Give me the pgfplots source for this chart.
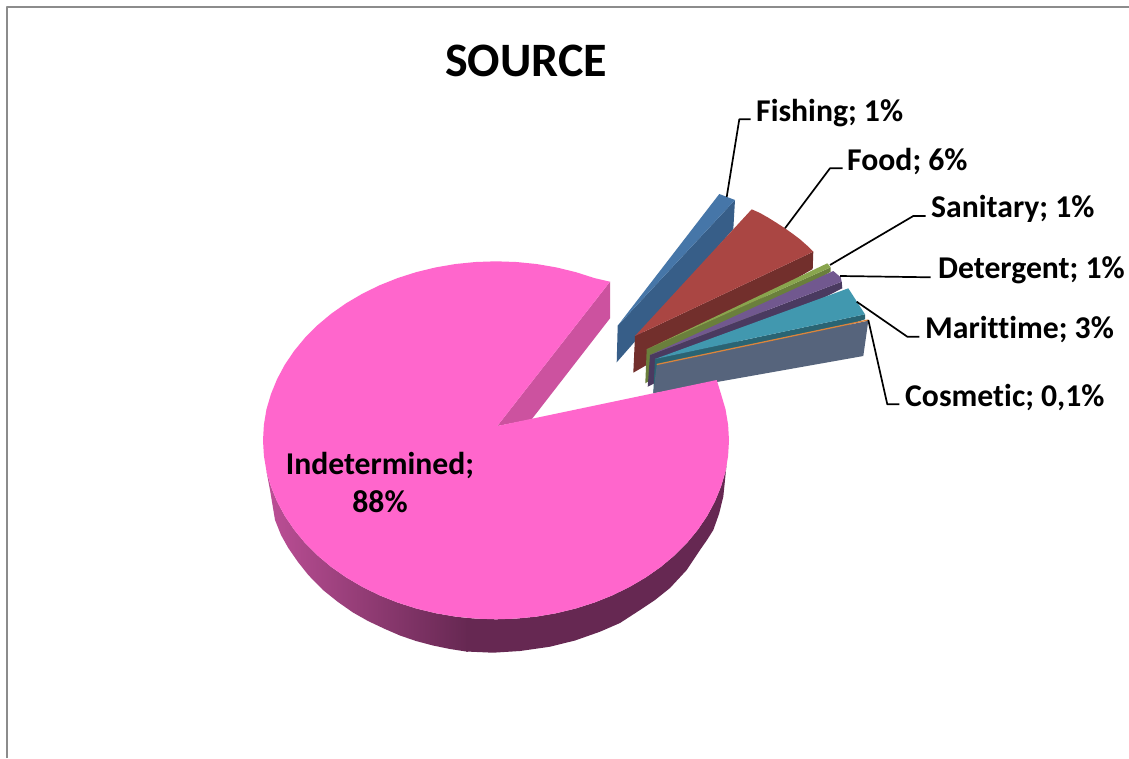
\documentclass[border=0pt]{standalone}
\usepackage{pgfplots}
\pgfplotsset{compat=1.18}
\usepackage{fontspec}
\setmainfont[Ligatures=CommonOff]{Carlito}
\definecolor{pinkTop}{HTML}{FF66CC}
\definecolor{pinkCut}{HTML}{CC529F}
\definecolor{pinkWallL}{HTML}{BC4F96}
\definecolor{pinkWallD}{HTML}{662852}
\definecolor{blueTop}{HTML}{4676A8}
\definecolor{blueSide}{HTML}{375E88}
\definecolor{redTop}{HTML}{AA4643}
\definecolor{redSide}{HTML}{722F2C}
\definecolor{greenTop}{HTML}{89A54E}
\definecolor{greenSide}{HTML}{6A7F3C}
\definecolor{purpleTop}{HTML}{71588F}
\definecolor{purpleSide}{HTML}{4A3A60}
\definecolor{tealTop}{HTML}{4198AF}
\definecolor{tealSide}{HTML}{2A6473}
\definecolor{slateSide}{HTML}{56647C}
\definecolor{orangeTop}{HTML}{DB843D}
\definecolor{frame}{HTML}{8C8C8C}
\begin{document}
\begin{tikzpicture}
\begin{axis}[
  width=1129pt, height=758pt, scale only axis,
  xmin=0, xmax=1129, ymin=0, ymax=758, y dir=reverse,
  hide axis, clip=true,
  every axis plot/.append style={line join=round},
]
% page background
\addplot[draw=none, fill=white] coordinates {(0,0) (1129,0) (1129,758) (0,758)} \closedcycle;
% chart frame
\addplot[frame, line width=2pt] coordinates {(7,758) (7,7) (1129,7)};

% Fishing
\addplot[draw=none, fill=blueSide] coordinates {(617.7,325.7) (735,200) (733.3,229) (616.7,362.3)} -- cycle;
\addplot[draw=none, fill=blueTop] coordinates {(617.7,325.7) (719.3,194) (735,200)} -- cycle;
% Food
\addplot[draw=none, fill=redSide] coordinates {(635,336) (813.3,251.7) (812.7,269) (633.3,372.7)} -- cycle;
\addplot[draw=none, fill=redTop] coordinates {(635,336) (751.7,209.3) (760,213) (768.3,217.7) (776,222.5) (785,228.3) (793,234) (800,239.3) (807,245.5) (813.3,251.7)} -- cycle;
% Sanitary
\addplot[draw=none, fill=greenSide] coordinates {(646.7,349.3) (830.7,267.3) (830.7,271.7) (645.3,383.3)} -- cycle;
\addplot[draw=none, fill=greenTop] coordinates {(646.7,349.3) (827.3,263.3) (830.7,267.3)} -- cycle;
% Detergent
\addplot[draw=none, fill=purpleSide] coordinates {(650,355) (841.7,281.7) (842.3,288.3) (647.7,386.7)} -- cycle;
\addplot[draw=none, fill=purpleTop] coordinates {(650,355) (833.3,271) (840.7,277.3) (841.7,281.7)} -- cycle;
% Marittime
\addplot[draw=none, fill=tealSide] coordinates {(655,359) (865,314.3) (865,319.3) (653.3,393.3)} -- cycle;
\addplot[draw=none, fill=tealTop] coordinates {(655,359) (848.3,288.3) (865,314.3)} -- cycle;
% Cosmetic
\addplot[draw=none, fill=slateSide] coordinates {(656.7,365) (868.3,320.7) (863.3,356) (653.3,393.3)} -- cycle;
\addplot[orangeTop, line width=1.3pt] coordinates {(656.7,364.5) (868.3,320)};

% Indetermined: outer wall, lit part then shadowed part
\addplot[draw=none, left color=pinkWallL, right color=pinkWallD] coordinates {
 (266.5,471.4) (271,486.6) (277.1,501.5) (284.8,515.9) (294.2,529.8) (305.1,543) (317.5,555.4)
 (331.2,566.9) (346.2,577.4) (362.4,586.9) (379.5,595.3) (397.5,602.5) (416.3,608.5) (435.7,613.2)
 (455.5,616.6) (468,618) (468,651.8) (450,649) (433,645.5) (416,641) (400,635.5) (385,629) (368,621)
 (353,612.5) (338,602) (323,590) (308.3,575) (298,562) (288.3,548) (281,535) (275,520) (270,490)} -- cycle;
\addplot[draw=none, fill=pinkWallD] coordinates {
 (466,617.8) (475.7,618.6) (496,619.3) (516.3,618.6) (536.5,616.6) (556.3,613.2) (575.7,608.5)
 (594.5,602.5) (612.5,595.3) (629.6,586.9) (645.8,577.4) (660.8,566.9) (674.5,555.4) (686.9,543)
 (697.8,529.8) (707.2,515.9) (714.9,501.5) (721,486.6) (725.5,471.4) (726.8,462)
 (725,480) (723.3,496.7) (719,514) (713.3,530) (707,540) (700,550) (686.7,570) (670,588) (655,600)
 (640,610) (620,623) (600,631.7) (575,640.5) (550,646.7) (520,651) (493,652.7) (466,651.5)} -- cycle;
% Indetermined: cut wall seen through the gap
\addplot[draw=none, fill=pinkCut] coordinates {(610,281.7) (610,318.3) (531.7,419.3) (497.3,426)} -- cycle;
% Indetermined: top face
\addplot[draw=none, fill=pinkTop] coordinates {
 (610,281.7) (594.5,278.1) (575.7,272.1) (556.3,267.4) (536.5,264) (516.3,262) (496,261.3)
 (475.7,262) (455.5,264) (435.7,267.4) (416.3,272.1) (397.5,278.1) (379.5,285.3) (362.4,293.7)
 (346.2,303.2) (331.2,313.7) (317.5,325.2) (305.1,337.6) (294.2,350.8) (284.8,364.7) (277.1,379.1)
 (271,394) (266.5,409.2) (263.9,424.7) (263,440.3) (263.9,455.9) (266.5,471.4) (271,486.6)
 (277.1,501.5) (284.8,515.9) (294.2,529.8) (305.1,543) (317.5,555.4) (331.2,566.9) (346.2,577.4)
 (362.4,586.9) (379.5,595.3) (397.5,602.5) (416.3,608.5) (435.7,613.2) (455.5,616.6) (475.7,618.6)
 (496,619.3) (516.3,618.6) (536.5,616.6) (556.3,613.2) (575.7,608.5) (594.5,602.5) (612.5,595.3)
 (629.6,586.9) (645.8,577.4) (660.8,566.9) (674.5,555.4) (686.9,543) (697.8,529.8) (707.2,515.9)
 (714.9,501.5) (721,486.6) (725.5,471.4) (728.1,455.9) (729,440.3) (728.1,424.7) (725.5,409.2)
 (721,394) (716.7,380) (497.3,426)} -- cycle;

% Leader lines
\addplot[black, line width=1.7pt] coordinates {(726.7,197) (739.3,119.3) (750.7,119.3)};
\addplot[black, line width=1.7pt] coordinates {(785,228.3) (830,168.3) (842.7,168.3)};
\addplot[black, line width=1.7pt] coordinates {(830,265) (913.3,216) (925.7,216)};
\addplot[black, line width=1.7pt] coordinates {(840,276) (930.7,277.3)};
\addplot[black, line width=1.7pt] coordinates {(856.7,301.7) (907.3,336.7) (919.3,336.7)};
\addplot[black, line width=1.7pt] coordinates {(868.3,320) (887.3,404.3) (899.3,404.3)};

% Labels
\node[font=\bfseries\fontsize{48}{48}\selectfont, anchor=base] at (axis cs:526,76) {SOURCE};
\node[font=\bfseries\fontsize{31.7}{32}\selectfont, anchor=base west, inner sep=0pt] at (axis cs:756,121) {Fishing; 1\%};
\node[font=\bfseries\fontsize{31.7}{32}\selectfont, anchor=base west, inner sep=0pt] at (axis cs:847,170) {Food; 6\%};
\node[font=\bfseries\fontsize{31.7}{32}\selectfont, anchor=base west, inner sep=0pt] at (axis cs:931,217) {Sanitary; 1\%};
\node[font=\bfseries\fontsize{31.7}{32}\selectfont, anchor=base west, inner sep=0pt] at (axis cs:938,278) {Detergent; 1\%};
\node[font=\bfseries\fontsize{31.7}{32}\selectfont, anchor=base west, inner sep=0pt] at (axis cs:925,338) {Marittime; 3\%};
\node[font=\bfseries\fontsize{31.7}{32}\selectfont, anchor=base west, inner sep=0pt] at (axis cs:905,406) {Cosmetic; 0,1\%};
\node[font=\bfseries\fontsize{31.7}{32}\selectfont, anchor=base, inner sep=0pt] at (axis cs:380,474) {Indetermined;};
\node[font=\bfseries\fontsize{31.7}{32}\selectfont, anchor=base, inner sep=0pt] at (axis cs:380,512) {88\%};
\end{axis}
\end{tikzpicture}
\end{document}
